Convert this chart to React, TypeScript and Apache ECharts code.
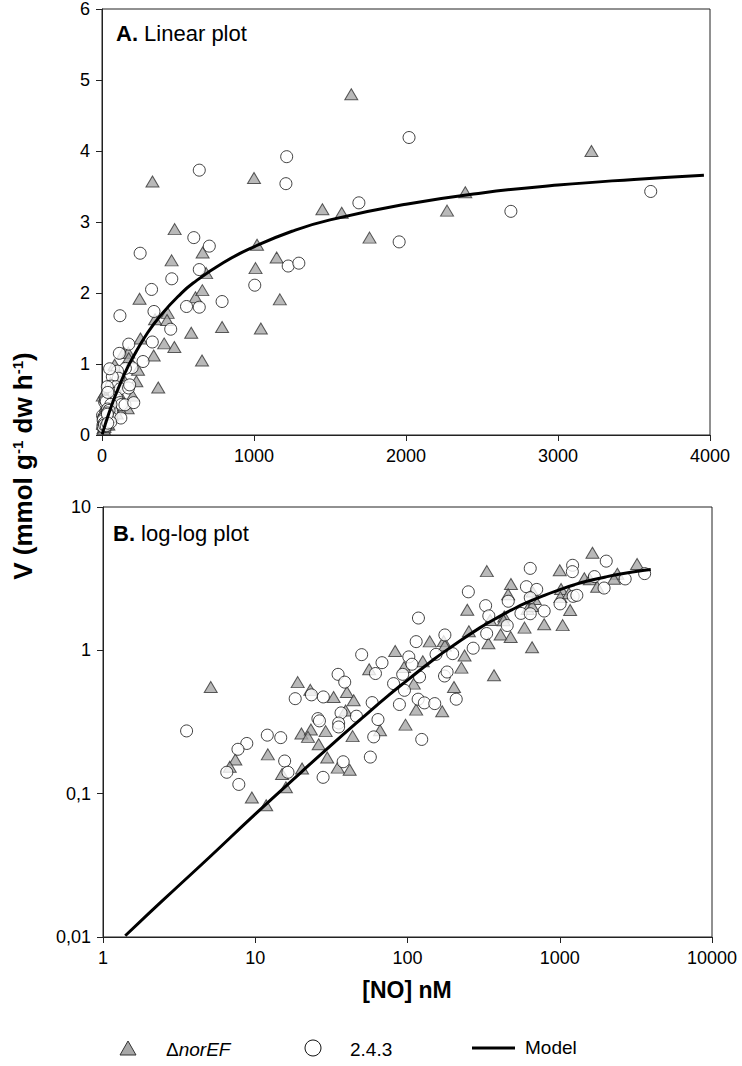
import React, { useEffect, useRef } from "react";
import * as echarts from "echarts";

// ΔnorEF (triangles): [NO] nM, V
const norEF: [number, number][] = [
  [5.1, 0.555], [19.0, 0.6], [23.0, 0.53], [20.1, 0.263], [23.2, 0.28], [22.2, 0.249],
  [29.0, 0.273], [26.1, 0.221], [29.7, 0.179], [12.1, 0.188], [7.4, 0.173], [6.8, 0.154],
  [9.5, 0.094], [11.8, 0.083], [15.9, 0.111], [15.0, 0.137], [20.3, 0.15],
  [332, 3.57], [478, 2.9], [458, 2.46], [247, 1.92], [140, 1.155], [173, 1.16], [176, 1.08],
  [253, 1.36], [409, 1.29], [476, 1.24], [340, 1.12], [83, 0.99], [126, 0.84], [237, 0.92],
  [226, 0.757], [370, 0.67], [56, 0.737], [95, 0.765], [110, 0.586], [202, 0.555], [169, 0.376],
  [114, 0.386], [97, 0.303], [66, 0.277], [40, 0.512], [32.7, 0.473], [44.3, 0.449],
  [43.6, 0.252], [34.8, 0.152], [41.7, 0.147], [39.2, 0.38],
  [432, 1.72], [428, 1.62], [349, 1.63],
  [1640, 4.8], [3220, 4.0], [1000, 3.62], [2390, 3.42], [1450, 3.18], [1577, 3.13],
  [2270, 3.16], [1760, 2.78], [1020, 2.68], [1010, 2.35], [1170, 1.91], [1045, 1.5],
  [790, 1.52], [587, 1.44], [658, 1.05], [685, 2.28], [662, 2.57], [615, 1.94], [660, 2.04],
  [1149, 2.5],
];

// 2.4.3 (circles): [NO] nM, V
const wt243: [number, number][] = [
  [3.54, 0.274], [18.3, 0.46], [23.4, 0.489], [28.0, 0.473], [25.8, 0.334], [26.4, 0.322],
  [12.0, 0.256], [14.7, 0.246], [8.8, 0.224], [7.7, 0.204], [6.5, 0.141], [7.8, 0.116],
  [15.6, 0.169], [16.4, 0.141], [27.9, 0.13],
  [251, 2.56], [326, 2.05], [342, 1.74], [459, 2.2], [452, 1.49], [118, 1.68],
  [114, 1.15], [176, 1.28], [198, 0.948], [270, 1.035], [331, 1.31], [154, 0.938], [102, 0.9],
  [107, 0.8], [68, 0.82], [50, 0.933], [61.6, 0.689], [93, 0.68], [81, 0.586], [120, 0.652],
  [175, 0.662], [182, 0.706], [95.5, 0.526], [88.5, 0.419], [117.5, 0.456], [129, 0.43],
  [151, 0.425], [209, 0.456], [64, 0.329], [60, 0.249], [124, 0.239], [57, 0.18], [58.6, 0.432],
  [35, 0.68], [38.7, 0.6], [36.6, 0.366], [46.2, 0.347], [35.3, 0.311], [35.3, 0.292],
  [37.8, 0.167],
  [640, 3.73], [1215, 3.92], [1210, 3.54], [2020, 4.19], [1690, 3.27], [2690, 3.15],
  [3610, 3.43], [1955, 2.72], [604, 2.78], [706, 2.66], [640, 2.33], [1005, 2.11],
  [1225, 2.38], [1295, 2.42], [790, 1.88], [556, 1.81], [640, 1.8],
];

// Model curve
const modelX = [1.4, 2, 3, 5, 10, 20, 30, 50, 75, 100, 150, 200, 300, 400, 500, 600, 800, 1000, 1250, 1500, 2000, 2500, 3000, 3500, 3960];
const modelY = [0.0102, 0.0146, 0.0218, 0.036, 0.072, 0.141, 0.208, 0.335, 0.485, 0.62, 0.87, 1.08, 1.44, 1.72, 1.95, 2.14, 2.43, 2.65, 2.87, 3.03, 3.25, 3.41, 3.52, 3.6, 3.66];

const linXTicks = [0, 1000, 2000, 3000, 4000];
const linYTicks = [0, 1, 2, 3, 4, 5, 6];

const FONT = "'Liberation Sans', Arial, sans-serif";
const AXIS_COLOR = "#222";

export default function App() {
  const ref = useRef<HTMLDivElement>(null);
  useEffect(() => {
    if (!ref.current) return;
    const chart = echarts.init(ref.current, undefined, { renderer: "svg" });
    const model = modelX.map((x, i) => [x, modelY[i]]);

    const axisCommon = {
      axisLine: { show: true, lineStyle: { color: AXIS_COLOR, width: 1 } },
      axisTick: { show: true, inside: false, length: 6, lineStyle: { color: AXIS_COLOR } },
      splitLine: { show: false },
      minorTick: { show: false },
      axisLabel: { color: "#000", fontSize: 18, fontFamily: FONT, margin: 12 },
    };
    const fmtPlain = (v: number) => String(Number(v.toPrecision(6)));
    const fmtComma = (v: number) => String(Number(v.toPrecision(6))).replace(".", ",");

    const triStyle = { color: "#a8a8a8", borderColor: "#333", borderWidth: 1 };
    const cirStyle = { color: "#fff", borderColor: "#111", borderWidth: 1 };

    chart.setOption({
      animation: false,
      backgroundColor: "#fff",
      grid: [
        { left: 102, top: 8, width: 608, height: 427, show: true, borderColor: AXIS_COLOR, borderWidth: 1 },
        { left: 103, top: 507, width: 609, height: 430, show: true, borderColor: AXIS_COLOR, borderWidth: 1 },
      ],
      xAxis: [
        { ...axisCommon, type: "value", gridIndex: 0, min: linXTicks[0], max: linXTicks[linXTicks.length - 1], interval: 1000, axisLabel: { ...axisCommon.axisLabel, formatter: fmtPlain } },
        { ...axisCommon, type: "log", logBase: 10, gridIndex: 1, min: 1, max: 10000, axisLabel: { ...axisCommon.axisLabel, formatter: fmtPlain } },
      ],
      yAxis: [
        { ...axisCommon, type: "value", gridIndex: 0, min: linYTicks[0], max: linYTicks[linYTicks.length - 1], interval: 1, axisLabel: { ...axisCommon.axisLabel, formatter: fmtPlain } },
        { ...axisCommon, type: "log", logBase: 10, gridIndex: 1, min: 0.01, max: 10, axisLabel: { ...axisCommon.axisLabel, formatter: fmtComma } },
      ],
      series: [
        { type: "scatter", name: "ΔnorEF", xAxisIndex: 0, yAxisIndex: 0, data: norEF, symbol: "triangle", symbolSize: [13, 11], itemStyle: triStyle },
        { type: "scatter", name: "2.4.3", xAxisIndex: 0, yAxisIndex: 0, data: wt243, symbol: "circle", symbolSize: 12, itemStyle: cirStyle },
        { type: "line", name: "Model", xAxisIndex: 0, yAxisIndex: 0, data: model, smooth: true, showSymbol: false, symbol: "none", lineStyle: { color: "#000", width: 3 } },
        { type: "scatter", name: "ΔnorEF", xAxisIndex: 1, yAxisIndex: 1, data: norEF, symbol: "triangle", symbolSize: [13, 11], itemStyle: triStyle },
        { type: "scatter", name: "2.4.3", xAxisIndex: 1, yAxisIndex: 1, data: wt243, symbol: "circle", symbolSize: 12, itemStyle: cirStyle },
        { type: "line", name: "Model", xAxisIndex: 1, yAxisIndex: 1, data: model, smooth: true, showSymbol: false, symbol: "none", lineStyle: { color: "#000", width: 3 } },
      ],
      graphic: [
        {
          type: "text", x: 116, y: 33,
          style: {
            text: "{b|A.} Linear plot", fontSize: 22, fontFamily: FONT, fill: "#000", verticalAlign: "middle",
            rich: { b: { fontSize: 22, fontWeight: "bold", fontFamily: FONT } },
          },
        },
        {
          type: "text", x: 113, y: 533,
          style: {
            text: "{b|B.} log-log plot", fontSize: 22, fontFamily: FONT, fill: "#000", verticalAlign: "middle",
            rich: { b: { fontSize: 22, fontWeight: "bold", fontFamily: FONT } },
          },
        },
        {
          type: "text", x: 23, y: 466, rotation: Math.PI / 2,
          style: {
            text: "V (mmol g{s|-1} dw h{s|-1})", fontSize: 26, fontWeight: "bold", fontFamily: FONT, fill: "#000",
            align: "center", verticalAlign: "middle",
            rich: { s: { fontSize: 15, fontWeight: "bold", fontFamily: FONT, verticalAlign: "top" } },
          },
        },
        {
          type: "text", x: 407, y: 990,
          style: { text: "[NO] nM", fontSize: 23, fontWeight: "bold", fontFamily: FONT, fill: "#000", align: "center", verticalAlign: "middle" },
        },
        // legend
        { type: "polygon", shape: { points: [[120, 1055], [136, 1055], [128, 1041]] }, style: { fill: "#a8a8a8", stroke: "#333", lineWidth: 1 } },
        {
          type: "text", x: 166, y: 1049,
          style: {
            text: "Δ{i|norEF}", fontSize: 19, fontFamily: FONT, fill: "#000", verticalAlign: "middle",
            rich: { i: { fontSize: 19, fontStyle: "italic", fontFamily: FONT } },
          },
        },
        { type: "circle", shape: { cx: 313, cy: 1048, r: 8 }, style: { fill: "#fff", stroke: "#111", lineWidth: 1 } },
        { type: "text", x: 350, y: 1049, style: { text: "2.4.3", fontSize: 19, fontFamily: FONT, fill: "#000", verticalAlign: "middle" } },
        { type: "line", shape: { x1: 472, y1: 1048, x2: 515, y2: 1048 }, style: { stroke: "#000", lineWidth: 3 } },
        { type: "text", x: 525, y: 1047, style: { text: "Model", fontSize: 19, fontFamily: "'Liberation Sans Narrow', 'Liberation Sans', Arial, sans-serif", fill: "#000", verticalAlign: "middle" } },
      ],
    });
    return () => chart.dispose();
  }, []);
  return <div ref={ref} style={{ position: "absolute", left: 0, top: 0, width: 742, height: 1066 }} />;
}
